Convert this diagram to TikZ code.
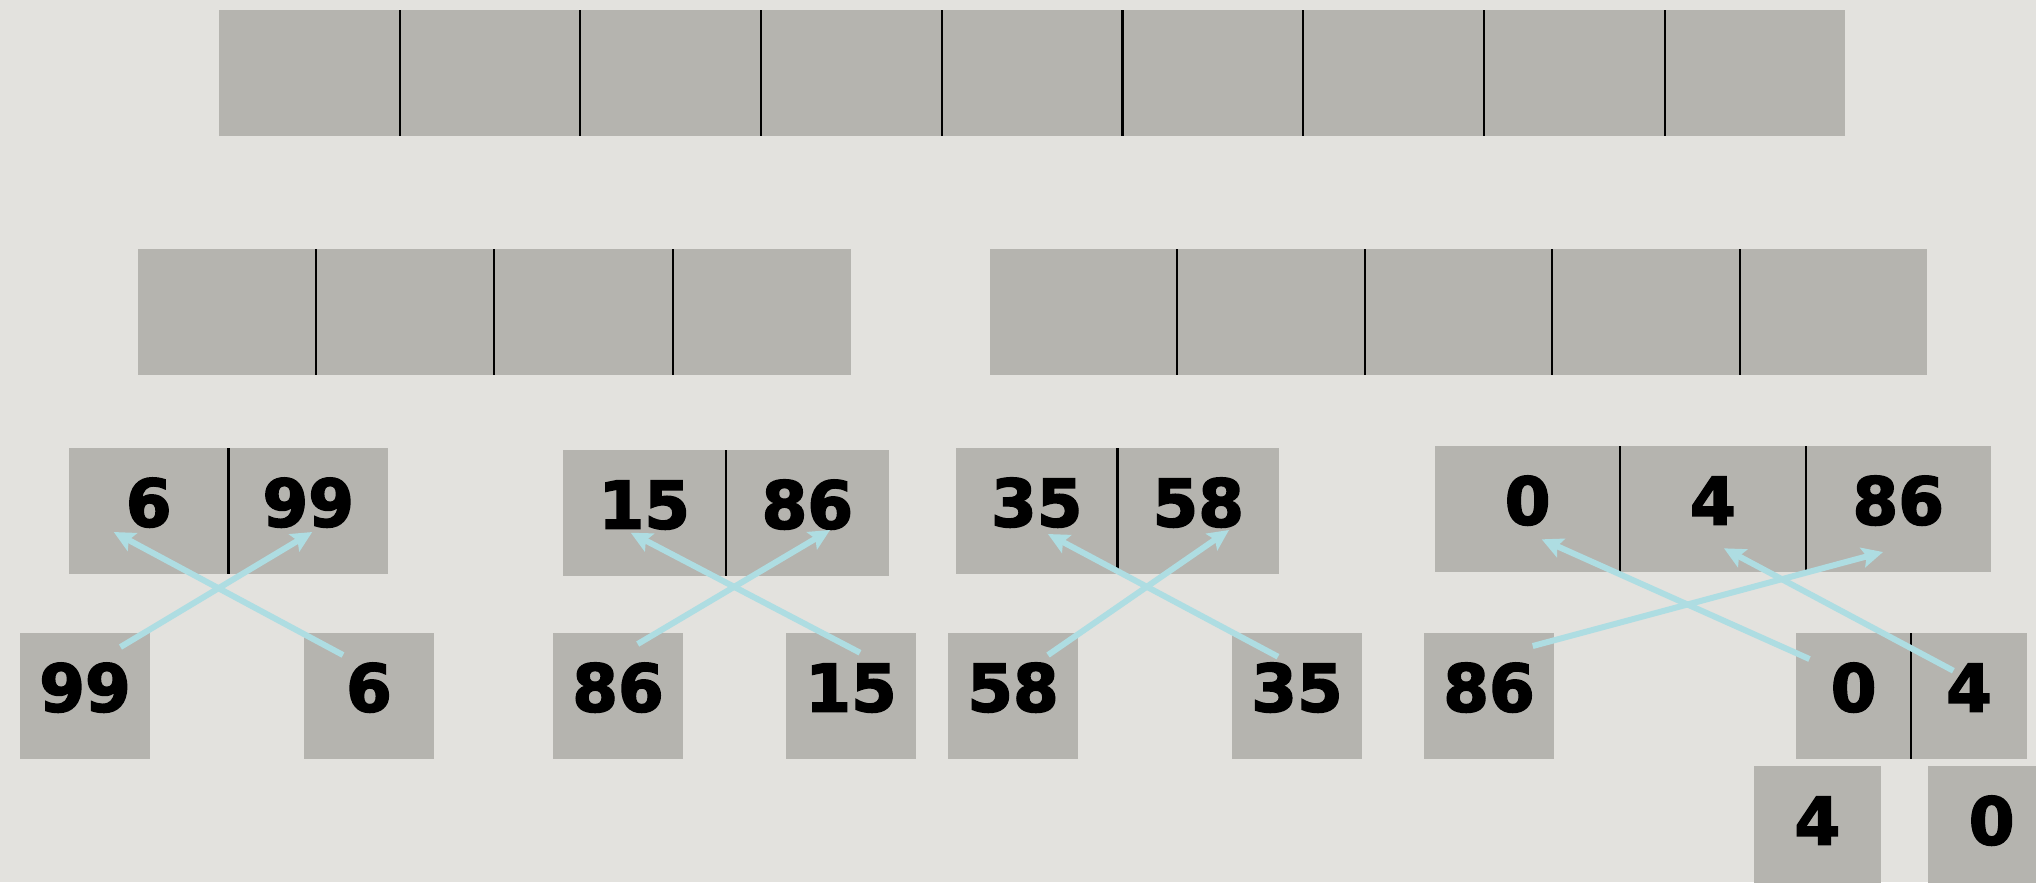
\documentclass[tikz,border=0pt]{standalone}
\usepackage{fontspec}
\usepackage{xcolor}
\usepackage{tikz}
\usetikzlibrary{arrows.meta, positioning, calc}

\newfontfamily\numfont{DejaVu Sans}[BoldFeatures={FakeBold=2.5}]
\definecolor{paper}{RGB}{227,226,222}
\definecolor{boxgray}{RGB}{181,180,175}
\definecolor{arrowcyan}{RGB}{174,221,226}

\begin{document}
\begin{tikzpicture}[
  node distance=0pt,
  cell/.style={
    rectangle,
    fill=boxgray,
    inner sep=0pt,
    outer sep=0pt,
    minimum height=1.26cm,
    text height=0.48cm,
    text depth=0.17cm,
    font=\numfont\bfseries\fontsize{18.7}{22}\selectfont
  },
  divider/.style={
    line width=0.6pt,
    black
  },
  arrow/.style={
    -{Stealth[length=2.1mm, width=2.0mm, inset=0.4mm]},
    line width=1.7pt,
    arrowcyan
  }
]

% Canvas
\useasboundingbox (0,0) rectangle (20.36,-8.82);
\clip (0,0) rectangle (20.36,-8.82);
\fill[paper] (0,0) rectangle (20.36,-8.82);

% Top array: nine empty cells
\node[cell, minimum width=1.807cm, anchor=north west] (t1) at (2.19,-0.10) {};
\node[cell, minimum width=1.807cm, right=of t1] (t2) {};
\node[cell, minimum width=1.807cm, right=of t2] (t3) {};
\node[cell, minimum width=1.807cm, right=of t3] (t4) {};
\node[cell, minimum width=1.807cm, right=of t4] (t5) {};
\node[cell, minimum width=1.807cm, right=of t5] (t6) {};
\node[cell, minimum width=1.807cm, right=of t6] (t7) {};
\node[cell, minimum width=1.807cm, right=of t7] (t8) {};
\node[cell, minimum width=1.807cm, right=of t8] (t9) {};

% Second level: left half (4) and right half (5)
\node[cell, minimum width=1.782cm, anchor=north west] (l1) at (1.38,-2.49) {};
\node[cell, minimum width=1.782cm, right=of l1] (l2) {};
\node[cell, minimum width=1.782cm, right=of l2] (l3) {};
\node[cell, minimum width=1.782cm, right=of l3] (l4) {};

\node[cell, minimum width=1.874cm, anchor=north west] (r1) at (9.90,-2.49) {};
\node[cell, minimum width=1.874cm, right=of r1] (r2) {};
\node[cell, minimum width=1.874cm, right=of r2] (r3) {};
\node[cell, minimum width=1.874cm, right=of r3] (r4) {};
\node[cell, minimum width=1.874cm, right=of r4] (r5) {};

% Third level: merged pairs
\node[cell, minimum width=1.595cm, anchor=north west] (a1) at (0.69,-4.48) {6};
\node[cell, minimum width=1.595cm, right=of a1] (a2) {99};

\node[cell, minimum width=1.631cm, anchor=north west] (b1) at (5.627,-4.50) {15};
\node[cell, minimum width=1.631cm, right=of b1] (b2) {86};

\node[cell, minimum width=1.615cm, anchor=north west] (c1) at (9.56,-4.48) {35};
\node[cell, minimum width=1.615cm, right=of c1] (c2) {58};

\node[cell, minimum width=1.853cm, anchor=north west] (d1) at (14.35,-4.46) {0};
\node[cell, minimum width=1.853cm, right=of d1] (d2) {4};
\node[cell, minimum width=1.853cm, right=of d2] (d3) {86};

% Fourth level: single elements
\node[cell, minimum width=1.30cm, anchor=north west] (ga1) at (0.20,-6.33) {99};
\node[cell, minimum width=1.30cm, anchor=north west] (ga2) at (3.04,-6.33) {6};
\node[cell, minimum width=1.30cm, anchor=north west] (gb1) at (5.53,-6.33) {86};
\node[cell, minimum width=1.30cm, anchor=north west] (gb2) at (7.86,-6.33) {15};
\node[cell, minimum width=1.30cm, anchor=north west] (gc1) at (9.48,-6.33) {58};
\node[cell, minimum width=1.30cm, anchor=north west] (gc2) at (12.32,-6.33) {35};
\node[cell, minimum width=1.30cm, anchor=north west] (gd1) at (14.24,-6.33) {86};
\node[cell, minimum width=1.1535cm, anchor=north west] (gd2) at (17.96,-6.33) {0};
\node[cell, minimum width=1.1535cm, right=of gd2] (gd3) {4};

% Fifth level
\node[cell, minimum width=1.267cm, anchor=north west] (ge1) at (17.54,-7.66) {4};
\node[cell, minimum width=1.267cm, anchor=north west] (ge2) at (19.283,-7.66) {0};

% Dividers
\draw[divider] (t1.north east) -- (t1.south east) (t2.north east) -- (t2.south east)
  (t3.north east) -- (t3.south east) (t4.north east) -- (t4.south east)
  (t5.north east) -- (t5.south east) (t6.north east) -- (t6.south east)
  (t7.north east) -- (t7.south east) (t8.north east) -- (t8.south east);
\draw[divider] (l1.north east) -- (l1.south east) (l2.north east) -- (l2.south east)
  (l3.north east) -- (l3.south east);
\draw[divider] (r1.north east) -- (r1.south east) (r2.north east) -- (r2.south east)
  (r3.north east) -- (r3.south east) (r4.north east) -- (r4.south east);
\draw[divider] (a1.north east) -- (a1.south east);
\draw[divider] (b1.north east) -- (b1.south east);
\draw[divider] (c1.north east) -- (c1.south east);
\draw[divider] (d1.north east) -- (d1.south east) (d2.north east) -- (d2.south east);
\draw[divider] (gd2.north east) -- (gd2.south east);

% Merge arrows
\draw[arrow] ($(ga2.center)+(-0.26,0.41)$) -- ($(a1.center)+(-0.35,-0.21)$);
\draw[arrow] ($(ga1.center)+(0.355,0.49)$) -- ($(a2.center)+(0.04,-0.21)$);

\draw[arrow] ($(gb1.center)+(0.197,0.52)$) -- ($(b2.center)+(0.227,-0.17)$);
\draw[arrow] ($(gb2.center)+(0.09,0.433)$) -- ($(b1.center)+(-0.135,-0.197)$);

\draw[arrow] ($(gc1.center)+(0.35,0.41)$) -- ($(c2.center)+(0.307,-0.19)$);
\draw[arrow] ($(gc2.center)+(-0.19,0.393)$) -- ($(c1.center)+(0.112,-0.23)$);

\draw[arrow] ($(gd1.center)+(0.437,0.50)$) -- ($(d3.center)+(-0.152,-0.43)$);
\draw[arrow] ($(gd2.center)+(-0.442,0.37)$) -- ($(d1.center)+(0.14,-0.303)$);
\draw[arrow] ($(gd3.center)+(-0.157,0.253)$) -- ($(d2.center)+(0.11,-0.393)$);

\end{tikzpicture}
\end{document}
